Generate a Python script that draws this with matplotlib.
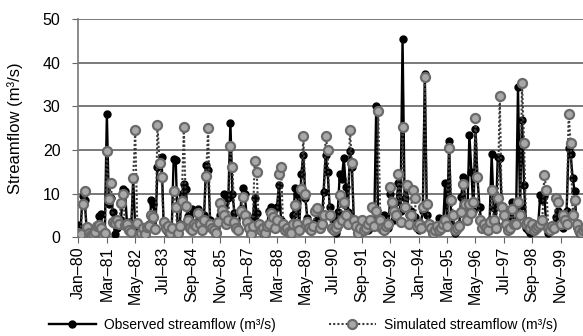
import matplotlib
matplotlib.use("Agg")
import matplotlib.pyplot as plt
import numpy as np

plt.rcParams['font.family'] = ['Liberation Sans', 'DejaVu Sans']

# Monthly streamflow, Jan 1980 - Dec 2000 (m3/s), one row per year
observed = [
    2.8, 1.5, 9.5, 8.6, 2.0, 1.2, 0.8, 1.0, 1.5, 2.2, 4.8, 5.2,
    1.5, 1.2, 28.2, 7.5, 9.0, 5.8, 0.6, 2.0, 3.0, 4.0, 11.0, 10.5,
    2.5, 3.5, 1.8, 13.3, 2.0, 1.5, 1.0, 2.5, 1.5, 1.0, 1.8, 3.0,
    8.5, 7.5, 2.0, 16.0, 17.0, 18.5, 3.5, 1.5, 1.0, 2.0, 1.5, 18.0,
    17.8, 1.5, 3.0, 9.8, 12.2, 11.0, 4.8, 3.0, 6.5, 2.0, 3.0, 6.5,
    3.5, 2.0, 5.0, 16.5, 15.5, 3.8, 2.0, 1.5, 2.0, 3.5, 5.0, 4.3,
    9.8, 4.5, 9.0, 26.3, 10.0, 5.5, 3.0, 2.0, 6.5, 11.2, 10.0, 5.0,
    3.0, 2.0, 4.0, 9.0, 5.5, 3.0, 1.5, 1.0, 2.5, 1.5, 6.0, 7.0,
    4.0, 3.0, 7.0, 12.0, 4.0, 2.0, 1.5, 2.5, 1.0, 2.5, 5.0, 11.2,
    10.0, 2.0, 14.5, 18.8, 9.0, 4.3, 2.0, 1.5, 3.0, 2.5, 4.0, 3.0,
    2.5, 10.3, 18.8, 15.0, 7.0, 4.7, 2.0, 1.0, 5.8, 14.5, 13.3, 18.1,
    11.6, 5.8, 19.7, 16.0, 3.0, 2.0, 1.5, 1.0, 3.5, 2.0, 2.5, 1.5,
    2.0, 3.5, 2.5, 30.0, 3.0, 2.0, 1.5, 5.0, 3.0, 2.0, 10.0, 8.1,
    4.0, 8.0, 12.4, 6.0, 45.5, 9.0, 12.0, 5.0, 6.0, 4.0, 4.5, 2.0,
    1.5, 3.0, 6.0, 37.5, 5.0, 3.0, 1.5, 1.0, 2.0, 1.5, 4.4, 3.0,
    2.0, 12.3, 3.0, 22.0, 3.0, 2.0, 1.0, 1.5, 3.0, 9.3, 13.9, 7.6,
    5.0, 23.5, 15.0, 6.0, 24.8, 13.5, 7.0, 3.0, 2.0, 1.5, 2.5, 4.0,
    19.0, 6.6, 3.0, 18.5, 18.2, 7.0, 5.0, 4.0, 2.0, 1.5, 8.1, 3.0,
    3.0, 34.5, 7.0, 27.0, 12.0, 2.0, 1.5, 1.0, 2.0, 1.5, 2.5, 3.0,
    9.7, 8.5, 9.5, 2.5, 1.0, 1.5, 2.0, 3.0, 4.5, 6.0, 3.0, 2.0,
    3.0, 6.0, 20.4, 19.0, 13.5, 10.5, 2.0, 1.0, 1.5, 2.0, 1.5, 2.0,
]

simulated = [
    1.0, 0.8, 7.6, 10.5, 2.2, 1.0, 0.5, 0.8, 1.2, 2.5, 2.8, 2.0,
    0.5, 1.0, 19.8, 8.8, 12.5, 3.5, 3.2, 3.8, 3.0, 7.8, 10.0, 2.8,
    3.0, 1.5, 1.2, 13.5, 24.5, 3.3, 0.5, 1.0, 2.0, 0.6, 2.3, 2.5,
    5.0, 4.5, 1.8, 25.8, 17.0, 13.9, 3.5, 2.0, 2.5, 1.0, 2.0, 10.5,
    7.0, 1.0, 2.5, 8.3, 25.3, 7.2, 3.8, 2.0, 1.5, 3.0, 2.5, 5.5,
    3.0, 1.5, 4.0, 14.0, 25.0, 3.0, 2.0, 1.5, 1.0, 3.5, 7.8, 6.2,
    5.0, 3.0, 4.0, 21.0, 16.0, 3.5, 2.0, 1.5, 6.0, 9.3, 5.0, 3.5,
    2.0, 0.8, 2.5, 17.5, 15.0, 3.0, 1.5, 2.0, 1.0, 2.5, 3.0, 5.5,
    4.5, 2.0, 4.0, 14.5, 16.2, 3.0, 1.5, 2.0, 1.2, 1.0, 3.0, 7.4,
    3.0, 1.5, 11.0, 23.2, 10.0, 3.5, 2.0, 1.5, 2.5, 6.0, 6.7, 2.0,
    3.0, 5.0, 23.3, 20.0, 5.0, 2.0, 1.5, 2.0, 3.0, 9.7, 4.0, 8.0,
    5.0, 3.0, 24.7, 17.0, 4.0, 2.5, 1.0, 2.0, 4.0, 1.5, 2.0, 3.0,
    4.0, 7.0, 2.5, 6.0, 29.0, 4.0, 2.0, 1.5, 2.5, 3.0, 11.6, 8.0,
    6.0, 5.0, 14.5, 3.5, 25.4, 7.0, 12.0, 3.0, 5.0, 10.8, 9.0, 2.5,
    3.0, 2.0, 7.0, 36.8, 7.5, 3.0, 2.0, 1.0, 1.5, 2.5, 1.5, 2.0,
    3.0, 4.0, 2.5, 20.5, 8.5, 5.0, 1.5, 2.0, 2.5, 5.8, 12.2, 7.5,
    4.0, 7.5, 5.5, 8.0, 27.3, 13.7, 4.0, 2.0, 3.0, 2.0, 1.5, 3.5,
    10.8, 4.0, 2.0, 9.0, 32.4, 7.0, 5.0, 3.0, 1.5, 2.0, 6.5, 3.0,
    3.0, 8.0, 5.0, 35.3, 21.6, 3.0, 3.5, 2.0, 3.0, 1.5, 2.0, 2.5,
    3.0, 4.0, 14.3, 10.8, 2.0, 1.5, 2.5, 2.0, 8.9, 8.0, 3.0, 5.0,
    4.0, 3.0, 28.3, 21.7, 5.0, 8.5, 3.0, 1.5, 1.0, 1.5, 2.0, 1.5,
]

tick_labels = ["Jan\u201380", "Mar\u201381", "May\u201382", "Jul\u201383", "Sep\u201384",
               "Nov\u201385", "Jan\u201387", "Mar\u201388", "May\u201389", "Jul\u201390",
               "Sep\u201391", "Nov\u201392", "Jan\u201394", "Mar\u201395", "May\u201396",
               "Jul\u201397", "Sep\u201398", "Nov\u201399"]
tick_step = 14  # months between labelled ticks

months = np.arange(len(observed))

W, H = 583, 336
fig = plt.figure(figsize=(W / 100, H / 100), dpi=100)
left_px, right_px, top_px, bottom_px = 78.5, 583, 19.5, 237
ax = fig.add_axes([left_px / W, (H - bottom_px) / H,
                   (right_px - left_px) / W, (bottom_px - top_px) / H])

ax.plot(months, observed, color='black', lw=1.7, marker='o', ms=5,
        mfc='black', mec='black', zorder=3,
        label='Observed streamflow (m\u00b3/s)')
ax.plot(months, simulated, color='#3c3c3c', lw=1.5, ls=(0, (1, 1)),
        marker='o', ms=6.5, mfc='#a8a8a8', mec='#6a6a6a', mew=1.6, zorder=4,
        label='Simulated streamflow (m\u00b3/s)')

ax.set_ylim(0, 50)
ax.set_yticks([0, 10, 20, 30, 40, 50])
ax.set_xlim(0, 249.1)
ax.set_xticks(np.arange(len(tick_labels)) * tick_step)
ax.set_xticklabels(tick_labels, rotation=90, fontsize=11.5)
ax.tick_params(axis='y', labelsize=11.5, length=4, color='#666666', pad=9)
ax.tick_params(axis='x', length=4, color='#666666', pad=3)

ax.grid(axis='y', color='#555555', lw=1.1)
ax.set_axisbelow(True)
for s in ['top', 'right']:
    ax.spines[s].set_visible(False)
for s in ['left', 'bottom']:
    ax.spines[s].set_color('#777777')
    ax.spines[s].set_linewidth(1.2)

ax.set_ylabel('Streamflow (m\u00b3/s)', fontsize=12)
ax.yaxis.set_label_coords(-(left_px - 23.5) / (right_px - left_px), 0.5)

fig.legend(loc='center left', bbox_to_anchor=(43 / W, 1 - 325 / H), ncol=2,
           frameon=False, fontsize=10, handlelength=3.4, handletextpad=0.6,
           columnspacing=3.8, borderaxespad=0)

fig.savefig('out.png', dpi=100)
